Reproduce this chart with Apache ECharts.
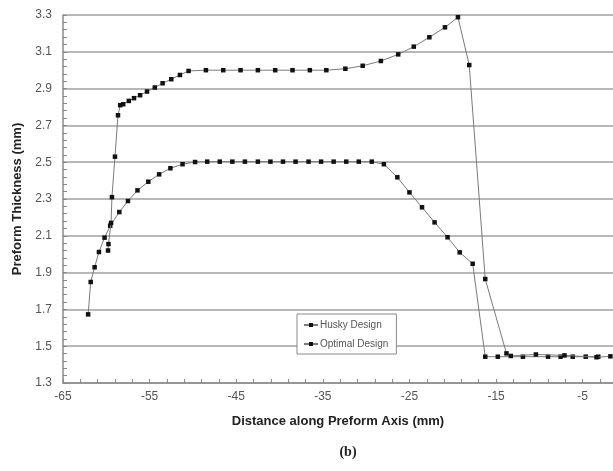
<!DOCTYPE html>
<html>
<head>
<meta charset="utf-8">
<script src="https://cdn.jsdelivr.net/npm/echarts@6/dist/echarts.min.js"></script>
<style>
html,body{margin:0;padding:0;background:#fff;}
#chart{width:613px;height:471px;}
</style>
</head>
<body>
<div id="chart"></div>
<script>
// ---- data ----
var huskyX = [-59.8, -59.75, -59.45, -59.35, -59.0, -58.65, -58.4, -58.05, -57.4, -56.8, -56.1, -55.3, -54.4, -53.5, -52.5, -51.5, -50.5, -48.5, -46.5, -44.5, -42.5, -40.5, -38.5, -36.5, -34.6, -32.4, -30.4, -28.3, -26.3, -24.5, -22.7, -20.9, -19.4, -18.1, -16.25, -13.8, -13.3, -10.4, -7.1, -3.4, -1.8];
var huskyY = [2.02, 2.055, 2.17, 2.31, 2.53, 2.755, 2.81, 2.815, 2.833, 2.848, 2.864, 2.884, 2.906, 2.929, 2.951, 2.974, 2.996, 3.0, 3.0, 3.0, 3.0, 3.0, 3.0, 3.0, 3.0, 3.008, 3.024, 3.05, 3.086, 3.128, 3.179, 3.233, 3.288, 3.028, 1.865, 1.461, 1.447, 1.455, 1.45, 1.44, 1.445];

var optimalX = [-62.1, -61.8, -61.35, -60.85, -60.2, -59.55, -58.5, -57.5, -56.4, -55.15, -53.9, -52.6, -51.2, -49.75, -48.35, -46.9, -45.45, -44.0, -42.5, -41.05, -39.6, -38.15, -36.65, -35.2, -33.75, -32.3, -30.85, -29.35, -27.95, -26.4, -25.0, -23.55, -22.1, -20.6, -19.2, -17.7, -16.25, -14.8, -11.9, -9.0, -7.55, -6.15, -4.65, -3.2];
var optimalY = [1.673, 1.849, 1.929, 2.012, 2.09, 2.155, 2.229, 2.289, 2.347, 2.394, 2.434, 2.467, 2.489, 2.501, 2.503, 2.503, 2.503, 2.503, 2.503, 2.503, 2.503, 2.503, 2.503, 2.503, 2.503, 2.503, 2.503, 2.503, 2.489, 2.418, 2.336, 2.255, 2.173, 2.092, 2.01, 1.948, 1.443, 1.443, 1.443, 1.443, 1.443, 1.443, 1.443, 1.443];

var seriesNames = ['Husky Design', 'Optimal Design'];
var xTickLabels = [-65, -55, -45, -35, -25, -15, -5];
var yTickLabels = [1.3, 1.5, 1.7, 1.9, 2.1, 2.3, 2.5, 2.7, 2.9, 3.1, 3.3];
var xMinorTicks = [];
for (var t = -65; t <= -2; t += 2) xMinorTicks.push(t);
var yMinorTicks = [];
for (var k = 0; k <= 50; k++) yMinorTicks.push(+(1.3 + k * 0.04).toFixed(2));

function zip(xs, ys) { return xs.map(function (x, i) { return [x, ys[i]]; }); }

var FONT = '"Liberation Sans", Arial, sans-serif';
var chart = echarts.init(document.getElementById('chart'), null, {renderer: 'canvas'});

var baseSeries = {
  type: 'line',
  symbol: 'rect',
  symbolSize: 4.5,
  showSymbol: true,
  lineStyle: {color: '#7a7a7a', width: 1},
  itemStyle: {color: '#111'},
  animation: false
};

chart.setOption({
  animation: false,
  backgroundColor: '#fff',
  title: {
    text: '(b)',
    left: 343, top: 440,
    textAlign: 'center',
    textStyle: {fontFamily: '"Liberation Serif", "Times New Roman", serif', fontWeight: 'bold', fontSize: 14, color: '#222'}
  },
  grid: {left: 63, top: 15, right: 0, bottom: 88, containLabel: false},
  legend: {
    data: seriesNames,
    orient: 'vertical',
    left: 297, top: 314,
    width: 98,
    padding: [6, 8, 5, 6],
    itemGap: 9,
    itemWidth: 14, itemHeight: 5,
    backgroundColor: '#fff',
    borderColor: '#8a8a8a', borderWidth: 1,
    textStyle: {fontFamily: FONT, fontSize: 10, color: '#555', padding: [0, 0, 0, -3]}
  },
  xAxis: [{
    type: 'value', min: -65, max: -1.5,
    position: 'bottom',
    name: 'Distance along Preform Axis (mm)',
    nameLocation: 'middle', nameGap: 32,
    nameTextStyle: {fontFamily: FONT, fontWeight: 'bold', fontSize: 13, color: '#222'},
    axisLine: {show: true, lineStyle: {color: '#8a8a8a', width: 1.5}},
    axisTick: {show: true, inside: true, length: 4, customValues: xMinorTicks, lineStyle: {color: '#8a8a8a'}},
    axisLabel: {customValues: xTickLabels, margin: 8, fontFamily: FONT, fontSize: 12, color: '#555'},
    splitLine: {show: false}
  }],
  yAxis: [{
    type: 'value', min: 1.3, max: 3.3,
    name: 'Preform Thickness (mm)',
    nameLocation: 'middle', nameGap: 36,
    nameTextStyle: {fontFamily: FONT, fontWeight: 'bold', fontSize: 13, color: '#222'},
    axisLine: {show: true, lineStyle: {color: '#8a8a8a', width: 1.5}},
    axisTick: {show: false, customValues: yTickLabels},
    axisLabel: {customValues: yTickLabels, margin: 11, fontFamily: FONT, fontSize: 12, color: '#555',
      formatter: function (v) { return v.toFixed(1); }},
    splitLine: {show: true, lineStyle: {color: '#a0a0a0', width: 1.6}}
  }, {
    type: 'value', min: 1.3, max: 3.3,
    position: 'left',
    axisLine: {show: false},
    axisTick: {show: true, inside: true, length: 4, customValues: yMinorTicks, lineStyle: {color: '#8a8a8a'}},
    axisLabel: {show: false},
    splitLine: {show: false}
  }],
  series: [
    Object.assign({}, baseSeries, {name: seriesNames[0], data: zip(huskyX, huskyY), z: 3}),
    Object.assign({}, baseSeries, {name: seriesNames[1], data: zip(optimalX, optimalY), z: 2})
  ]
});
</script>
</body>
</html>
